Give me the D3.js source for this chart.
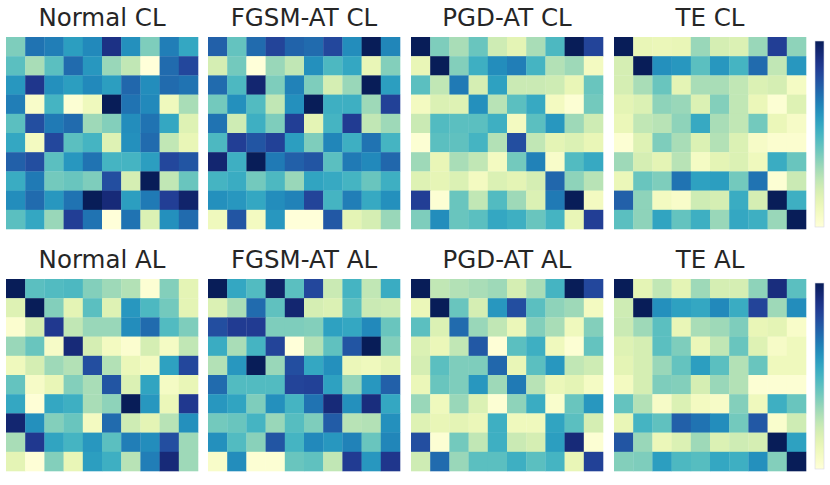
<!DOCTYPE html>
<html>
<head>
<meta charset="utf-8">
<script src="https://cdn.jsdelivr.net/npm/d3@7"></script>
<style>
  body { margin: 0; background: #fff; }
  svg { display: block; }
</style>
</head>
<body>
<svg id="chart"></svg>
<script>
// panel titles, in reading order
const titles = ["Normal CL", "FGSM-AT CL", "PGD-AT CL", "TE CL",
                "Normal AL", "FGSM-AT AL", "PGD-AT AL", "TE AL"];

// 10x10 similarity matrices (colour position 0..1)
const normalCL = [
  [0.38,0.70,0.67,0.58,0.64,0.90,0.62,0.38,0.67,0.55],
  [0.45,0.30,0.45,0.72,0.60,0.33,0.25,0.00,0.72,0.82],
  [0.60,0.88,0.62,0.58,0.64,0.58,0.73,0.63,0.72,0.70],
  [0.67,0.05,0.50,0.02,0.10,1.00,0.70,0.64,0.10,0.30],
  [0.45,0.80,0.68,0.72,0.32,0.37,0.63,0.70,0.55,0.17],
  [0.55,0.08,0.82,0.45,0.50,0.17,0.62,0.72,0.25,0.13],
  [0.75,0.80,0.45,0.60,0.70,0.50,0.50,0.58,0.82,0.78],
  [0.53,0.68,0.40,0.42,0.38,0.80,0.20,1.00,0.25,0.42],
  [0.63,0.72,0.60,0.70,1.00,0.93,0.58,0.68,0.85,0.96],
  [0.45,0.55,0.33,0.85,0.70,0.00,0.70,0.18,0.62,0.72]
];
const fgsmCL = [
  [0.75,0.43,0.72,0.83,0.74,0.72,0.82,0.63,1.00,0.65],
  [0.20,0.40,0.00,0.33,0.25,0.62,0.48,0.55,0.13,0.37],
  [0.72,0.48,0.95,0.38,0.66,0.38,0.20,0.33,1.00,0.58],
  [0.40,0.62,0.47,0.25,0.62,1.00,0.52,0.52,0.32,0.84],
  [0.70,0.22,0.52,0.38,0.85,0.15,0.50,0.86,0.25,0.32],
  [0.48,0.85,0.78,0.84,0.58,0.38,0.65,0.52,0.70,0.50],
  [0.95,0.52,1.00,0.68,0.75,0.78,0.45,0.68,0.64,0.73],
  [0.50,0.53,0.40,0.48,0.33,0.56,0.54,0.50,0.42,0.52],
  [0.62,0.60,0.55,0.63,0.66,0.83,0.50,0.67,0.54,0.62],
  [0.10,0.78,0.08,0.60,0.00,0.00,0.77,0.15,0.20,0.33]
];
const pgdCL = [
  [1.00,0.38,0.30,0.42,0.22,0.15,0.30,0.48,1.00,0.83],
  [0.13,1.00,0.37,0.52,0.63,0.67,0.50,0.28,0.32,0.08],
  [0.45,0.25,0.68,0.20,0.57,0.23,0.23,0.22,0.13,0.42],
  [0.08,0.18,0.17,0.62,0.27,0.45,0.54,0.08,0.02,0.40],
  [0.23,0.47,0.45,0.45,0.52,0.08,0.45,0.60,0.32,0.22],
  [0.02,0.45,0.44,0.50,0.28,0.80,0.25,0.15,0.18,0.13],
  [0.32,0.13,0.30,0.25,0.08,0.40,0.66,0.05,0.47,0.54],
  [0.17,0.14,0.18,0.08,0.18,0.15,0.20,0.73,0.35,0.27],
  [0.85,0.02,0.42,0.25,0.47,0.32,0.18,0.68,1.00,0.08],
  [0.38,0.63,0.42,0.45,0.55,0.52,0.42,0.50,0.13,0.85]
];
const teCL = [
  [1.00,0.13,0.12,0.13,0.33,0.20,0.18,0.33,0.85,0.35],
  [0.20,1.00,0.62,0.60,0.45,0.60,0.50,0.72,0.25,0.60],
  [0.20,0.30,0.42,0.15,0.30,0.30,0.25,0.18,0.20,0.07],
  [0.15,0.18,0.35,0.33,0.18,0.37,0.25,0.12,0.02,0.17],
  [0.12,0.25,0.27,0.35,0.54,0.30,0.25,0.40,0.12,0.06],
  [0.02,0.17,0.38,0.30,0.18,0.28,0.18,0.06,0.03,0.03],
  [0.32,0.20,0.15,0.27,0.07,0.15,0.18,0.10,0.53,0.42],
  [0.12,0.42,0.38,0.70,0.57,0.58,0.40,0.70,0.02,0.23],
  [0.75,0.35,0.08,0.05,0.22,0.20,0.53,0.20,1.00,0.52],
  [0.45,0.35,0.56,0.43,0.52,0.33,0.55,0.52,0.33,1.00]
];
const normalAL = [
  [1.00,0.45,0.47,0.48,0.37,0.32,0.28,0.02,0.37,0.15],
  [0.17,1.00,0.37,0.15,0.45,0.17,0.60,0.48,0.40,0.15],
  [0.03,0.20,0.87,0.25,0.33,0.33,0.63,0.72,0.47,0.38],
  [0.33,0.42,0.06,0.93,0.20,0.08,0.03,0.20,0.07,0.25],
  [0.10,0.20,0.32,0.28,0.80,0.28,0.12,0.08,0.57,0.82],
  [0.43,0.06,0.13,0.37,0.30,0.78,0.18,0.56,0.07,0.13],
  [0.55,0.01,0.55,0.52,0.30,0.35,1.00,0.60,0.12,0.87],
  [0.95,0.62,0.37,0.42,0.08,0.72,0.22,0.15,0.27,0.62],
  [0.30,0.87,0.56,0.50,0.60,0.45,0.67,0.63,0.80,0.32],
  [0.15,0.01,0.37,0.13,0.58,0.52,0.27,0.67,0.93,0.32]
];
const fgsmAL = [
  [1.00,0.55,0.47,0.97,0.45,0.82,0.23,0.50,0.25,0.53],
  [0.18,0.30,0.72,0.44,0.95,0.20,0.18,0.45,0.23,0.22],
  [0.80,0.86,0.86,0.38,0.38,0.37,0.57,0.55,0.64,0.42],
  [0.53,0.30,0.50,0.83,0.00,0.28,0.44,0.78,1.00,0.37],
  [0.28,0.60,1.00,0.33,0.80,0.55,0.62,0.12,0.10,0.15],
  [0.72,0.47,0.47,0.47,0.83,0.84,0.57,0.34,0.60,0.75],
  [0.60,0.56,0.38,0.62,0.50,0.70,0.93,0.62,0.92,0.55],
  [0.40,0.42,0.50,0.33,0.46,0.38,0.76,0.27,0.28,0.62],
  [0.62,0.47,0.36,0.78,0.50,0.64,0.60,0.66,0.42,0.65],
  [0.05,0.63,0.02,0.02,0.42,0.44,0.25,0.86,0.60,0.88]
];
const pgdAL = [
  [1.00,0.25,0.28,0.30,0.32,0.20,0.30,0.50,1.00,0.82],
  [0.12,1.00,0.42,0.20,0.60,0.80,0.45,0.35,0.32,0.08],
  [0.45,0.18,0.72,0.33,0.25,0.12,0.37,0.30,0.10,0.37],
  [0.18,0.12,0.25,0.77,0.01,0.45,0.52,0.10,0.02,0.43],
  [0.20,0.45,0.38,0.38,0.73,0.13,0.45,0.60,0.25,0.22],
  [0.12,0.42,0.38,0.60,0.32,0.68,0.27,0.12,0.15,0.07],
  [0.33,0.10,0.33,0.18,0.02,0.35,0.53,0.04,0.42,0.60],
  [0.17,0.13,0.15,0.12,0.52,0.10,0.10,0.56,0.45,0.20],
  [0.80,0.02,0.40,0.25,0.52,0.23,0.20,0.58,0.93,0.02],
  [0.22,0.72,0.33,0.45,0.45,0.52,0.45,0.50,0.13,0.84]
];
const teAL = [
  [1.00,0.15,0.25,0.15,0.32,0.20,0.20,0.35,0.92,0.45],
  [0.22,1.00,0.62,0.57,0.55,0.64,0.53,0.83,0.32,0.63],
  [0.23,0.32,0.45,0.13,0.30,0.32,0.38,0.13,0.15,0.05],
  [0.17,0.20,0.45,0.38,0.12,0.25,0.42,0.17,0.06,0.10],
  [0.15,0.20,0.33,0.43,0.58,0.45,0.28,0.42,0.10,0.10],
  [0.08,0.20,0.38,0.37,0.20,0.33,0.28,0.02,0.02,0.02],
  [0.43,0.28,0.06,0.18,0.08,0.06,0.37,0.10,0.52,0.42],
  [0.13,0.50,0.44,0.75,0.70,0.63,0.40,0.77,0.04,0.22],
  [0.78,0.33,0.12,0.18,0.32,0.18,0.22,0.20,1.00,0.57],
  [0.37,0.38,0.58,0.48,0.46,0.55,0.52,0.62,0.37,1.00]
];

const matrices = [normalCL, fgsmCL, pgdCL, teCL, normalAL, fgsmAL, pgdAL, teAL];

const W = 830, H = 485;
const panelX = [6, 208, 411, 614],
      panelY = [37, 279],
      size = 192;

const svg = d3.select("#chart")
    .attr("width", W)
    .attr("height", H);

const color = d3.scaleSequential(d3.interpolateYlGnBu).domain([0, 1]);
const idx = d3.range(10);

matrices.forEach((m, k) => {
    const col = k % 4, row = Math.floor(k / 4);
    const g = svg.append("g")
        .attr("transform", `translate(${panelX[col]},${panelY[row]})`);

    const x = d3.scaleBand().domain(idx).range([0, size]);
    const y = d3.scaleBand().domain(idx).range([0, size]);

    const cells = [];
    m.forEach((r, i) => r.forEach((v, j) => cells.push({ i, j, v })));

    g.selectAll("rect")
        .data(cells)
        .join("rect")
        .attr("x", d => x(d.j))
        .attr("y", d => y(d.i))
        .attr("width", x.bandwidth() + 0.3)
        .attr("height", y.bandwidth() + 0.3)
        .attr("fill", d => color(d.v));

    // panel title
    g.append("text")
        .attr("x", size / 2)
        .attr("y", -11)
        .attr("text-anchor", "middle")
        .style("font-family", "DejaVu Sans, sans-serif")
        .style("font-size", "24.5px")
        .style("fill", "#262626")
        .text(titles[k]);
});

// colour bars, one per row
const defs = svg.append("defs");
const grad = defs.append("linearGradient")
    .attr("id", "cbar")
    .attr("x1", 0).attr("y1", 1)
    .attr("x2", 0).attr("y2", 0);
grad.selectAll("stop")
    .data(d3.range(0, 1.0001, 0.05))
    .join("stop")
    .attr("offset", d => d)
    .attr("stop-color", d => color(d));

const cbarTop = [41, 283], cbarH = 186;
cbarTop.forEach(t => {
    const cy = d3.scaleLinear().domain([0, 1]).range([t + cbarH, t]);
    svg.append("rect")
        .attr("x", 815)
        .attr("y", cy(1))
        .attr("width", 9)
        .attr("height", cy(0) - cy(1))
        .attr("fill", "url(#cbar)")
        .attr("stroke", "#d8d8e4")
        .attr("stroke-width", 0.6);
});
</script>
</body>
</html>
